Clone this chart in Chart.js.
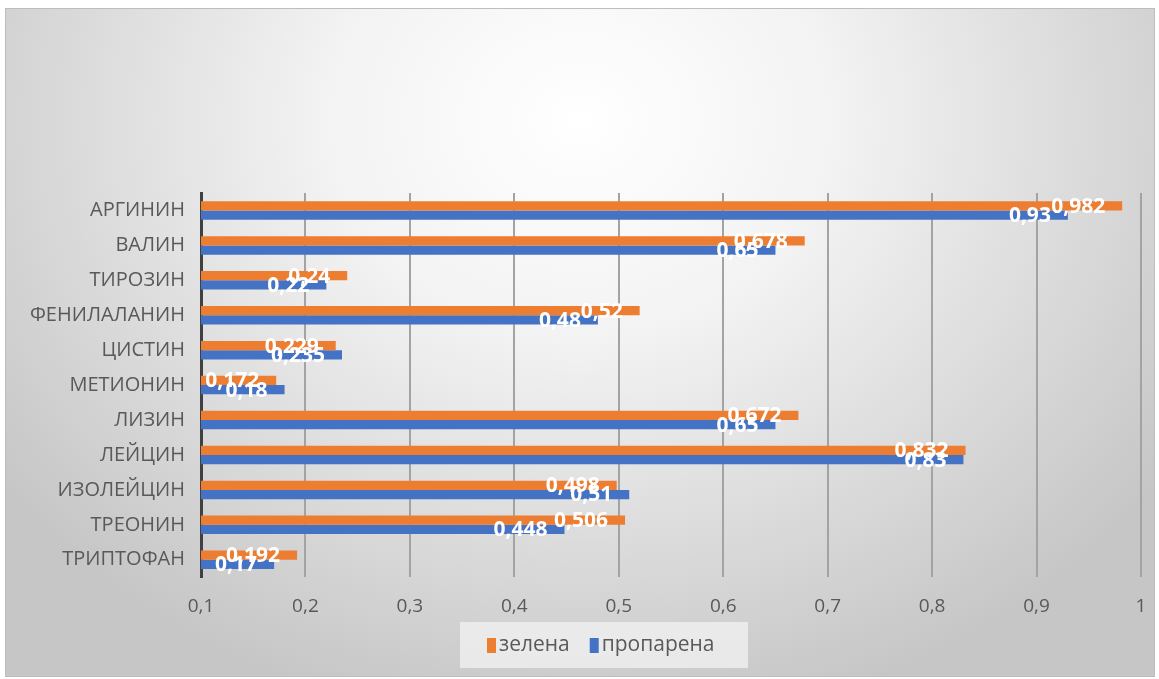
<!DOCTYPE html>
<html>
<head>
<meta charset="utf-8">
<script src="https://cdn.jsdelivr.net/npm/chart.js@4.4.1/dist/chart.umd.min.js"></script>
<style>
  html, body { margin: 0; padding: 0; background: #ffffff; }
  #wrap { width: 1159px; height: 679px; position: relative; }
</style>
</head>
<body>
<div id="wrap"><canvas id="chart" width="1159" height="679"></canvas></div>
<script>
const CATEGORIES = ["АРГИНИН", "ВАЛИН", "ТИРОЗИН", "ФЕНИЛАЛАНИН", "ЦИСТИН", "МЕТИОНИН", "ЛИЗИН", "ЛЕЙЦИН", "ИЗОЛЕЙЦИН", "ТРЕОНИН", "ТРИПТОФАН"];
const SERIES_NAMES = ["зелена", "пропарена"];
const ZELENA = [0.982, 0.678, 0.24, 0.52, 0.229, 0.172, 0.672, 0.832, 0.498, 0.506, 0.192];
const PROPARENA = [0.93, 0.65, 0.22, 0.48, 0.235, 0.18, 0.65, 0.83, 0.51, 0.448, 0.17];
const TICK_LABELS = ["0,1", "0,2", "0,3", "0,4", "0,5", "0,6", "0,7", "0,8", "0,9", "1"];

const ORANGE = "#ED7D31";
const BLUE = "#4472C4";
const TEXT_GREY = "#595959";
const LABEL_FONT = "'Open Sans'";

function formatValue(value) {
  return String(value).replace(".", ",");
}

// background with frame and soft radial gradient
const backgroundPlugin = {
  id: "background",
  beforeDraw(chart) {
    const ctx = chart.ctx;
    const x0 = 5, y0 = 8, w = 1150, h = 669;
    ctx.save();
    ctx.translate(580, 120);
    ctx.scale(1, 0.85);
    const grad = ctx.createRadialGradient(0, 0, 0, 0, 0, 720);
    grad.addColorStop(0, "#ffffff");
    grad.addColorStop(0.35, "#f3f3f3");
    grad.addColorStop(1, "#c6c6c6");
    ctx.fillStyle = grad;
    ctx.fillRect(x0 - 580, (y0 - 120) / 0.85, w, h / 0.85);
    ctx.restore();

    ctx.save();
    ctx.strokeStyle = "#bdbdbd";
    ctx.lineWidth = 1;
    ctx.strokeRect(x0 + 0.5, y0 + 0.5, w - 1, h - 1);
    ctx.restore();
  }
};

// legend panel under the axis, Excel style (small gap between swatch and text)
const legendPlugin = {
  id: "excelLegend",
  afterDraw(chart) {
    const ctx = chart.ctx;
    const midY = 645;
    ctx.save();
    ctx.fillStyle = "rgba(236,236,236,0.9)";
    ctx.fillRect(460, midY - 23, 288, 46);

    ctx.font = "21px " + LABEL_FONT;
    ctx.textBaseline = "middle";
    ctx.textAlign = "left";
    let x = 487;
    chart.data.datasets.forEach((dataset) => {
      ctx.fillStyle = dataset.backgroundColor;
      ctx.fillRect(x, midY - 7, 9, 15);
      x += 12;
      ctx.fillStyle = TEXT_GREY;
      ctx.fillText(dataset.label, x, midY);
      x += ctx.measureText(dataset.label).width + 20;
    });
    ctx.restore();
  }
};

// white value labels at the inner end of each bar
const valueLabelPlugin = {
  id: "valueLabels",
  afterDatasetsDraw(chart) {
    const ctx = chart.ctx;
    ctx.save();
    ctx.font = "bold 21px 'Open Sans'";
    ctx.fillStyle = "#ffffff";
    ctx.textAlign = "right";
    ctx.textBaseline = "middle";
    chart.data.datasets.forEach((dataset, di) => {
      const meta = chart.getDatasetMeta(di);
      meta.data.forEach((bar, i) => {
        ctx.fillText(formatValue(dataset.data[i]), bar.x - 17, bar.y + 1);
      });
    });
    ctx.restore();
  }
};

new Chart(document.getElementById("chart"), {
  type: "bar",
  data: {
    labels: CATEGORIES,
    datasets: [
      {
        label: SERIES_NAMES[0],
        data: ZELENA,
        backgroundColor: ORANGE,
        barPercentage: 1,
        categoryPercentage: 0.53
      },
      {
        label: SERIES_NAMES[1],
        data: PROPARENA,
        backgroundColor: BLUE,
        barPercentage: 1,
        categoryPercentage: 0.53
      }
    ]
  },
  options: {
    indexAxis: "y",
    responsive: false,
    animation: false,
    layout: {
      padding: { left: 5, right: 18, top: 193, bottom: 43 }
    },
    scales: {
      x: {
        min: 0.1,
        max: 1,
        afterFit(scale) {
          // let the layout padding alone decide where the plot ends
          scale.paddingRight = 0;
          scale.paddingLeft = 0;
        },
        ticks: {
          stepSize: 0.1,
          padding: 18,
          color: TEXT_GREY,
          font: { family: LABEL_FONT, size: 19 },
          callback: (value, index) => TICK_LABELS[index]
        },
        grid: {
          color: "#a3a3a3",
          lineWidth: 2,
          drawTicks: false
        },
        border: { display: false }
      },
      y: {
        afterFit(scale) {
          scale.width = 196;
        },
        ticks: {
          padding: 16,
          color: TEXT_GREY,
          font: { family: LABEL_FONT, size: 20 }
        },
        grid: { display: false, drawTicks: false },
        border: { display: true, color: "#404040", width: 3 }
      }
    },
    plugins: {
      legend: { display: false },
      tooltip: { enabled: false }
    }
  },
  plugins: [backgroundPlugin, valueLabelPlugin, legendPlugin]
});
</script>
</body>
</html>
